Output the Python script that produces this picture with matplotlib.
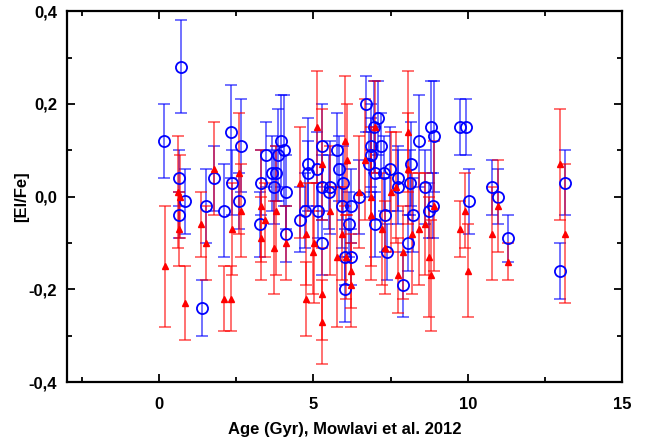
import matplotlib
matplotlib.use("Agg")
import matplotlib.pyplot as plt
from matplotlib.ticker import MultipleLocator, FuncFormatter

plt.rcParams['font.family'] = 'Liberation Sans'
plt.rcParams['font.weight'] = 'bold'
plt.rcParams['axes.unicode_minus'] = False

# blue open circles: age, [El/Fe], error
age_blue = [0.16, 0.71, 0.65, 0.65, 0.84, 1.40, 1.53, 1.79, 2.11, 2.34, 2.37, 2.66, 2.60,
            3.28, 3.31, 3.47, 3.64, 3.77, 3.73, 3.86, 3.96, 4.06, 4.12, 4.12, 4.55, 4.74,
            4.81, 4.81, 5.10, 5.16, 5.26, 5.26, 5.49, 5.26, 5.55, 5.75, 5.84, 5.94, 5.97,
            6.14, 6.01, 6.23, 6.01, 6.20, 6.49, 6.69, 7.08, 6.95, 6.85, 7.18, 6.85, 6.79,
            7.01, 7.27, 7.47, 7.01, 7.31, 7.37, 7.73, 7.73, 8.12, 8.15, 8.41, 8.60, 8.80,
            8.90, 8.08, 7.89, 8.21, 8.73, 8.86, 9.74, 9.94, 10.03, 10.78, 10.97, 11.30,
            12.99, 13.15]
elfe_blue = [0.12, 0.28, 0.04, -0.04, -0.01, -0.24, -0.02, 0.04, -0.03, 0.14, 0.03, 0.11, -0.01,
             -0.06, 0.03, 0.09, 0.05, 0.05, 0.02, 0.09, 0.12, 0.10, 0.01, -0.08, -0.05, -0.03,
             0.07, 0.05, 0.06, -0.03, 0.11, 0.02, 0.01, -0.10, 0.02, 0.10, 0.06, -0.02, 0.03,
             -0.06, -0.13, -0.13, -0.20, -0.02, 0.00, 0.20, 0.17, 0.15, 0.11, 0.11, 0.09, 0.07,
             0.05, 0.05, 0.06, -0.06, -0.04, -0.12, 0.04, 0.02, 0.03, 0.07, 0.12, 0.02, 0.15,
             0.13, -0.10, -0.19, -0.04, -0.03, -0.02, 0.15, 0.15, -0.01, 0.02, 0.00, -0.09,
             -0.16, 0.03]
err_blue = [0.08, 0.10, 0.06, 0.05, 0.07, 0.06, 0.08, 0.07, 0.10, 0.10, 0.07, 0.10, 0.06,
            0.07, 0.07, 0.07, 0.08, 0.06, 0.08, 0.10, 0.10, 0.12, 0.08, 0.06, 0.07, 0.08,
            0.10, 0.07, 0.08, 0.06, 0.09, 0.07, 0.08, 0.07, 0.10, 0.08, 0.07, 0.09, 0.08,
            0.07, 0.06, 0.06, 0.07, 0.08, 0.08, 0.06, 0.08, 0.10, 0.09, 0.07, 0.08, 0.07,
            0.10, 0.08, 0.09, 0.07, 0.08, 0.06, 0.07, 0.08, 0.07, 0.09, 0.10, 0.08, 0.10,
            0.12, 0.06, 0.07, 0.08, 0.06, 0.07, 0.06, 0.06, 0.07, 0.06, 0.06, 0.05,
            0.06, 0.07]

# red filled triangles: age, [El/Fe], error
age_red = [0.19, 0.62, 0.65, 0.68, 0.84, 1.36, 1.53, 1.79, 2.11, 2.34, 2.37, 2.60, 2.66,
           3.31, 3.31, 3.44, 3.73, 3.77, 4.12, 4.55, 4.77, 4.77, 4.97, 5.03, 5.13, 5.26,
           5.26, 5.29, 5.55, 5.75, 5.91, 6.01, 6.04, 6.10, 6.20, 6.20, 6.46, 6.66, 6.85,
           6.88, 7.01, 7.21, 7.31, 7.50, 7.69, 7.73, 7.89, 8.05, 8.05, 8.18, 8.41, 8.60,
           8.73, 8.80, 8.90, 9.74, 9.90, 10.00, 10.78, 10.97, 11.30, 12.99, 13.15]
elfe_red = [-0.15, 0.01, -0.07, 0.00, -0.23, -0.06, -0.10, 0.06, -0.22, -0.22, -0.07, 0.05, -0.03,
            -0.02, -0.09, -0.05, -0.11, -0.03, -0.10, 0.03, -0.08, -0.22, -0.12, -0.10, 0.15, -0.21,
            -0.27, 0.07, -0.03, -0.13, -0.08, 0.12, -0.13, 0.08, -0.16, -0.19, 0.01, 0.08, -0.04,
            0.00, 0.15, -0.07, -0.11, 0.01, 0.02, -0.17, -0.12, 0.14, 0.06, -0.08, -0.07, -0.06,
            -0.13, -0.17, -0.02, -0.07, -0.03, -0.16, -0.08, -0.02, -0.14, 0.07, -0.08]
err_red = [0.13, 0.12, 0.08, 0.09, 0.08, 0.07, 0.08, 0.10, 0.07, 0.07, 0.10, 0.13, 0.10,
           0.12, 0.09, 0.08, 0.10, 0.14, 0.08, 0.12, 0.11, 0.08, 0.09, 0.13, 0.12, 0.10,
           0.09, 0.12, 0.14, 0.15, 0.10, 0.14, 0.09, 0.12, 0.08, 0.09, 0.12, 0.13, 0.14,
           0.15, 0.10, 0.12, 0.10, 0.13, 0.12, 0.08, 0.10, 0.13, 0.12, 0.13, 0.12, 0.11,
           0.13, 0.12, 0.14, 0.06, 0.08, 0.10, 0.10, 0.10, 0.04, 0.12, 0.15]

fig = plt.figure(figsize=(6.54, 4.48), dpi=100)
ax = fig.add_axes([0.102, 0.147, 0.849, 0.828])

ax.errorbar(age_blue, elfe_blue, yerr=err_blue, fmt='none', ecolor='#0000ff',
            elinewidth=1.2, capsize=4, capthick=1.2, alpha=0.65, zorder=2)
ax.errorbar(age_red, elfe_red, yerr=err_red, fmt='none', ecolor='#ff0000',
            elinewidth=1.2, capsize=4, capthick=1.2, alpha=0.65, zorder=2)
ax.plot(age_blue, elfe_blue, 'o', mfc='none', mec='#0000ff', mew=1.3, ms=8, zorder=3)
ax.plot(age_red, elfe_red, '^', color='#ff0000', ms=5, zorder=4)

ax.set_xlim(-3, 15)
ax.set_ylim(-0.4, 0.4)
ax.xaxis.set_major_locator(MultipleLocator(5))
ax.xaxis.set_minor_locator(MultipleLocator(2.5))
ax.yaxis.set_major_locator(MultipleLocator(0.2))
ax.yaxis.set_minor_locator(MultipleLocator(0.1))
ax.yaxis.set_major_formatter(FuncFormatter(lambda v, p: f"{v:.1f}".replace('.', ',').replace('-0,0', '0,0')))

ax.tick_params(which='both', direction='in', top=True, right=True, width=1.3, labelsize=12)
ax.tick_params(which='major', length=6)
ax.tick_params(which='minor', length=3.5)
ax.tick_params(axis='x', which='major', pad=11)
ax.tick_params(axis='y', which='major', pad=7)
for s in ax.spines.values():
    s.set_linewidth(1.6)

ax.set_xlabel('Age (Gyr), Mowlavi et al. 2012', fontsize=12, fontweight='bold', labelpad=7)
ax.set_ylabel('[El/Fe]', fontsize=12, fontweight='bold')
ax.yaxis.set_label_coords(-0.068, 0.5)

fig.savefig('out.png', dpi=100)
